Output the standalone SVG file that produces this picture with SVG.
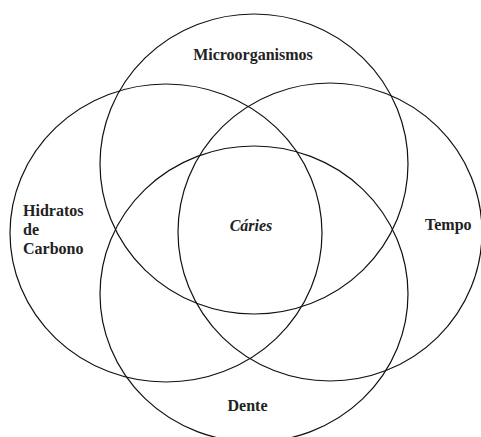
<svg xmlns="http://www.w3.org/2000/svg" width="481" height="437" viewBox="0 0 481 437">
<style>
.c{fill:none;stroke:#111;stroke-width:1.2}
.t{font-family:"Liberation Serif","Times New Roman",serif;font-size:16px;font-weight:bold;fill:#222}
.i{font-style:italic}
</style>
<rect width="481" height="437" fill="#fff"/>
<g id="microorganismos">
<ellipse class="c" cx="254" cy="164" rx="154" ry="150"/>
<text class="t" x="253" y="60" text-anchor="middle">Microorganismos</text>
</g>
<g id="hidratos">
<ellipse class="c" cx="166" cy="233" rx="156" ry="149"/>
<text class="t" x="23" y="216">Hidratos</text>
<text class="t" x="23" y="235">de</text>
<text class="t" x="23" y="254">Carbono</text>
</g>
<g id="tempo">
<ellipse class="c" cx="330" cy="232" rx="152" ry="149"/>
<text class="t" x="425" y="230">Tempo</text>
</g>
<g id="dente">
<ellipse class="c" cx="254" cy="294" rx="154" ry="148"/>
<text class="t" x="247.5" y="411" text-anchor="middle">Dente</text>
</g>
<g id="caries">
<text class="t i" x="251" y="231" text-anchor="middle">Cáries</text>
</g>
<g id="connectors"/>
</svg>
